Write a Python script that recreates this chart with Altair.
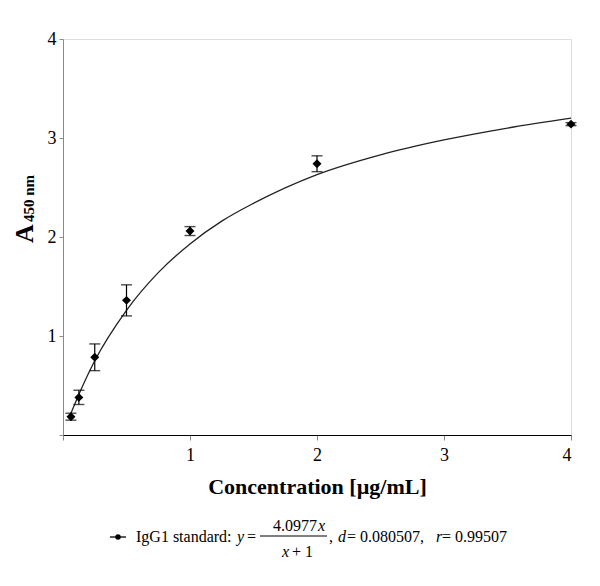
import altair as alt
import pandas as pd

# Measured standard points (concentration, mean A450, SD)
conc = [0.0625, 0.125, 0.25, 0.5, 1.0, 2.0, 4.0]
absorb = [0.185, 0.38, 0.785, 1.36, 2.06, 2.74, 3.14]
sd = [0.035, 0.072, 0.135, 0.157, 0.045, 0.08, 0.015]

# Fitted curve
curve_x = [0.0625, 0.125, 0.25, 0.5, 0.75, 1.0, 1.25, 1.5, 2.0, 2.5, 3.0, 3.5, 4.0]
curve_y = [0.22, 0.41, 0.75, 1.26, 1.64, 1.93, 2.16, 2.34, 2.63, 2.83, 2.98, 3.10, 3.20]

x_ticks = [0, 1, 2, 3, 4]
y_ticks = [0, 1, 2, 3, 4]

pts = pd.DataFrame({"x": conc, "y": absorb, "sd": sd})
pts["lo"] = pts["y"] - pts["sd"]
pts["hi"] = pts["y"] + pts["sd"]
cur = pd.DataFrame({"x": curve_x, "y": curve_y})

SERIF = "Liberation Serif, Times New Roman, serif"
W, H = 508, 396

xs = alt.Scale(domain=[0, 4], nice=False)
ys = alt.Scale(domain=[0, 4], nice=False)

x_axis = alt.Axis(values=x_ticks, format="d",
                  labelExpr="datum.value == 0 ? '' : datum.label",
                  grid=False, domainColor="#000000", tickColor="#8a8a8a", tickSize=5,
                  labelFont=SERIF, labelFontSize=18, labelColor="#000", labelPadding=6,
                  title="Concentration [µg/mL]", titleFont=SERIF, titleFontSize=22,
                  titleFontWeight="bold", titleColor="#000", titlePadding=12)
y_axis = alt.Axis(values=y_ticks, format="d",
                  labelExpr="datum.value == 0 ? '' : datum.label",
                  grid=False, domainColor="#8a8a8a", tickColor="#8a8a8a", tickSize=4,
                  labelFont=SERIF, labelFontSize=18, labelColor="#000", labelPadding=3,
                  title=None)

line = alt.Chart(cur).mark_line(color="#222", strokeWidth=1.3, interpolate="monotone").encode(
    x=alt.X("x:Q", scale=xs, axis=x_axis),
    y=alt.Y("y:Q", scale=ys, axis=y_axis),
)

rules = alt.Chart(pts).mark_rule(color="#000", strokeWidth=1.2).encode(
    x="x:Q", y="lo:Q", y2="hi:Q")
cap_lo = alt.Chart(pts).mark_tick(color="#000", orient="horizontal", size=11, thickness=1.4).encode(
    x="x:Q", y="lo:Q")
cap_hi = alt.Chart(pts).mark_tick(color="#000", orient="horizontal", size=11, thickness=1.4).encode(
    x="x:Q", y="hi:Q")
points = alt.Chart(pts).mark_point(shape="diamond", filled=True, color="#000", size=80, opacity=1).encode(
    x="x:Q", y="y:Q")

one = pd.DataFrame({"a": [0]})


def txt(s, x, y, size=16, weight="normal", style="normal", align="left", angle=0, baseline="middle"):
    return alt.Chart(one).mark_text(
        text=s, font=SERIF, fontSize=size, fontWeight=weight, fontStyle=style,
        align=align, baseline=baseline, angle=angle, color="#000"
    ).encode(x=alt.value(x), y=alt.value(y))


# Y-axis title "A450 nm" (rotated, with subscript)
ytitle_a = txt("A", -30, 204, size=26, weight="bold", angle=270, baseline="alphabetic")
ytitle_sub = txt("450 nm", -29, 183, size=15, weight="bold", angle=270, baseline="alphabetic")

# Legend-like formula below the chart
LY = 498
leg_line = alt.Chart(one).mark_rule(color="#000", strokeWidth=1.3).encode(
    x=alt.value(47), x2=alt.value(63), y=alt.value(LY))
leg_pt = alt.Chart(one).mark_point(shape="circle", filled=True, color="#000", size=30, opacity=1).encode(
    x=alt.value(55), y=alt.value(LY))
leg_items = [
    txt("IgG1 standard:", 73, LY),
    txt("y", 174, LY, style="italic"),
    txt("=", 184, LY),
    txt("4.0977", 254, LY - 11, align="right"),
    txt("x", 255, LY - 11, style="italic"),
    txt("x", 219, LY + 15, style="italic"),
    txt("+ 1", 229, LY + 15),
    txt(",", 266, LY),
    txt("d", 275, LY, style="italic"),
    txt("= 0.080507,", 284, LY),
    txt("r", 373, LY, style="italic"),
    txt("= 0.99507", 379, LY),
]
frac_bar = alt.Chart(one).mark_rule(color="#000", strokeWidth=1).encode(
    x=alt.value(197), x2=alt.value(264), y=alt.value(LY - 1))

chart = alt.layer(
    line, rules, cap_lo, cap_hi, points,
    ytitle_a, ytitle_sub, leg_line, leg_pt, frac_bar, *leg_items
).properties(
    width=W, height=H,
    autosize=alt.AutoSizeParams(type="none"),
    padding={"left": 55, "top": 31, "right": 20, "bottom": 140},
).configure_view(stroke=None).configure(background="#ffffff")

chart.save("out.html", embed_options={"renderer": "svg", "actions": False})
